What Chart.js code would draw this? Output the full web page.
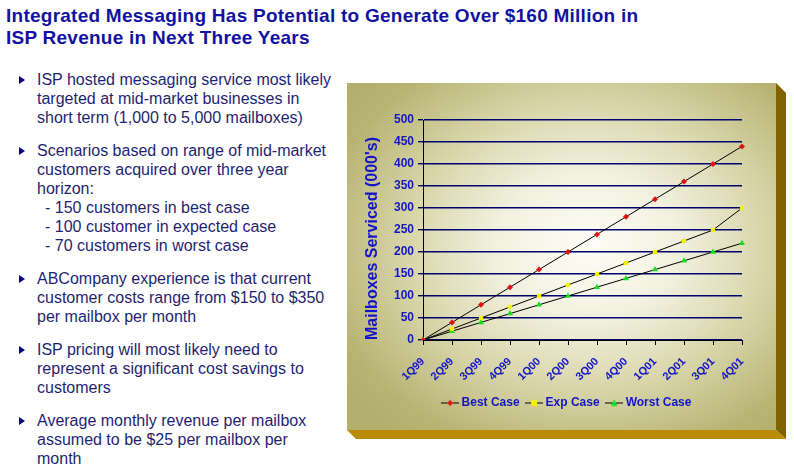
<!DOCTYPE html>
<html>
<head>
<meta charset="utf-8">
<script src="https://cdn.jsdelivr.net/npm/chart.js@4"></script>
<style>
  body { margin: 0; width: 794px; height: 475px; background: #fff; position: relative; overflow: hidden;
         font-family: Arial, "Liberation Sans", sans-serif; }
  #title { position: absolute; left: 6px; top: 5px; font-weight: bold; font-size: 19px; line-height: 22px; letter-spacing: 0.25px; color: #1212a2; white-space: nowrap; }
  #bullets { position: absolute; left: 0; top: 70px; font-size: 16px; line-height: 19px; color: #1f1f72; }
  .item { position: relative; padding-left: 37px; margin-bottom: 14px; white-space: nowrap; }
  .item.sub { margin-top: -14px; padding-left: 45px; }
  .item:not(.sub)::before { content: ""; position: absolute; left: 19px; top: 6px; border-left: 6px solid #000080;
         border-top: 4px solid transparent; border-bottom: 4px solid transparent; }
  #face { position: absolute; left: 347px; top: 83px; width: 429px; height: 347px; background-color: #b3af6c;
         background-image: radial-gradient(ellipse 300px 240px at 56% 47%, #fdfdf6 0%, #f2f1e0 30%, #dcd9b0 56%, #b7b372 90%, #b3af6c 100%); }
  #side { position: absolute; left: 347px; top: 83px; width: 440px; height: 356px; background: #816200;
         clip-path: polygon(429px 0, 439px 10px, 439px 356px, 429px 347px); }
  #bottom { position: absolute; left: 347px; top: 83px; width: 440px; height: 356px; background: #b98b06;
         clip-path: polygon(0 347px, 429px 347px, 439px 356px, 9px 356px); }
  #wrap { position: absolute; left: 347px; top: 83px; width: 440px; height: 356px; }
</style>
</head>
<body>
<div id="title">Integrated Messaging Has Potential to Generate Over $160 Million in<br>ISP Revenue in Next Three Years</div>
<div id="bullets">
  <div class="item">ISP hosted messaging service most likely<br>targeted at mid-market businesses in<br>short term (1,000 to 5,000 mailboxes)</div>
  <div class="item">Scenarios based on range of mid-market<br>customers acquired over three year<br>horizon:</div>
  <div class="item sub">- 150 customers in best case<br>- 100 customer in expected case<br>- 70 customers in worst case</div>
  <div class="item">ABCompany experience is that current<br>customer costs range from $150 to $350<br>per mailbox per month</div>
  <div class="item">ISP pricing will most likely need to<br>represent a significant cost savings to<br>customers</div>
  <div class="item">Average monthly revenue per mailbox<br>assumed to be $25 per mailbox per<br>month</div>
</div>
<div id="face"></div>
<div id="side"></div>
<div id="bottom"></div>
<div id="wrap"><canvas id="chart"></canvas></div>
<script>
// Quarters on the x axis
const quarters = ['1Q99', '2Q99', '3Q99', '4Q99', '1Q00', '2Q00', '3Q00', '4Q00', '1Q01', '2Q01', '3Q01', '4Q01'];

// Mailboxes serviced (000's)
const bestCase = [0, 40, 80, 120, 160, 200, 240, 280, 320, 360, 400, 440];
const expCase = [0, 25, 50, 75, 100, 125, 150, 175, 200, 225, 250, 300];
const worstCase = [0, 20, 40, 60, 80, 100, 120, 140, 160, 180, 200, 220];

const blue = '#1515c8';
const font = 'Arial, "Liberation Sans", sans-serif';

// small legend sample: black line with the marker in the middle
function legendSample(color, style) {
    const c = document.createElement('canvas');
    c.width = 18;
    c.height = 9;
    const g = c.getContext('2d');
    g.strokeStyle = '#000';
    g.lineWidth = 1;
    g.beginPath();
    g.moveTo(0, 4.5);
    g.lineTo(18, 4.5);
    g.stroke();
    g.fillStyle = color;
    g.beginPath();
    if (style === 'rectRot') {
        g.moveTo(9, 1.5); g.lineTo(12, 4.5); g.lineTo(9, 7.5); g.lineTo(6, 4.5);
    } else if (style === 'rect') {
        g.rect(6, 1.5, 6, 6);
    } else {
        g.moveTo(9, 1); g.lineTo(12.5, 7.5); g.lineTo(5.5, 7.5);
    }
    g.closePath();
    g.fill();
    return c;
}

function makeSeries(label, data, color, style, radius) {
    return {
        label: label,
        data: data,
        borderColor: '#000',
        borderWidth: 1,
        pointStyle: style,
        pointRadius: radius,
        pointBackgroundColor: color,
        pointBorderColor: color,
        pointBorderWidth: 0,
        tension: 0,
        sample: legendSample(color, style),
    };
}

// shift legend to sit where the original one is
const legendShift = {
    id: 'legendShift',
    afterLayout(chart) {
        const lg = chart.legend;
        const d = 221 - (lg.left + lg.right) / 2;
        lg.left += d;
        lg.right += d;
    }
};

new Chart(document.getElementById('chart').getContext('2d'), {
    type: 'line',
    data: {
        labels: quarters,
        datasets: [
            makeSeries('Best Case', bestCase, '#e01010', 'rectRot', 3),
            makeSeries('Exp Case', expCase, '#f4f400', 'rect', 3),
            makeSeries('Worst Case', worstCase, '#10e020', 'triangle', 3.5),
        ]
    },
    plugins: [legendShift],
    options: {
        responsive: true,
        maintainAspectRatio: false,
        animation: false,
        layout: {
            padding: { top: 37, left: 10, right: 45, bottom: 20 },
        },
        plugins: {
            legend: {
                position: 'bottom',
                labels: {
                    usePointStyle: true,
                    pointStyleWidth: 11,
                    padding: 9,
                    color: blue,
                    font: { family: font, size: 12, weight: 'bold' },
                    generateLabels: function(chart) {
                        const items = Chart.defaults.plugins.legend.labels.generateLabels(chart);
                        items.forEach(function(it) {
                            it.pointStyle = chart.data.datasets[it.datasetIndex].sample;
                        });
                        return items;
                    }
                },
            },
            tooltip: { enabled: false },
        },
        scales: {
            x: {
                afterFit: function(scale) { scale.height = 48; },
                border: { color: '#000', width: 1 },
                grid: {
                    drawOnChartArea: false,
                    tickLength: 5,
                    tickColor: '#000',
                },
                ticks: {
                    minRotation: 45,
                    maxRotation: 45,
                    padding: 10,
                    color: blue,
                    font: { family: font, size: 11, weight: 'bold' },
                },
            },
            y: {
                min: 0,
                max: 500,
                afterFit: function(scale) { scale.width = 66; },
                border: { color: '#000', width: 1 },
                title: {
                    display: true,
                    text: "Mailboxes Serviced (000's)",
                    align: 'start',
                    color: blue,
                    padding: { top: 6, bottom: 0 },
                    font: { family: font, size: 16, weight: 'bold' },
                },
                ticks: {
                    stepSize: 50,
                    padding: 4,
                    color: blue,
                    font: { family: font, size: 12, weight: 'bold' },
                },
                grid: {
                    color: '#00006e',
                    lineWidth: 1.4,
                    tickLength: 5,
                },
            },
        },
    }
});
</script>
</body>
</html>
